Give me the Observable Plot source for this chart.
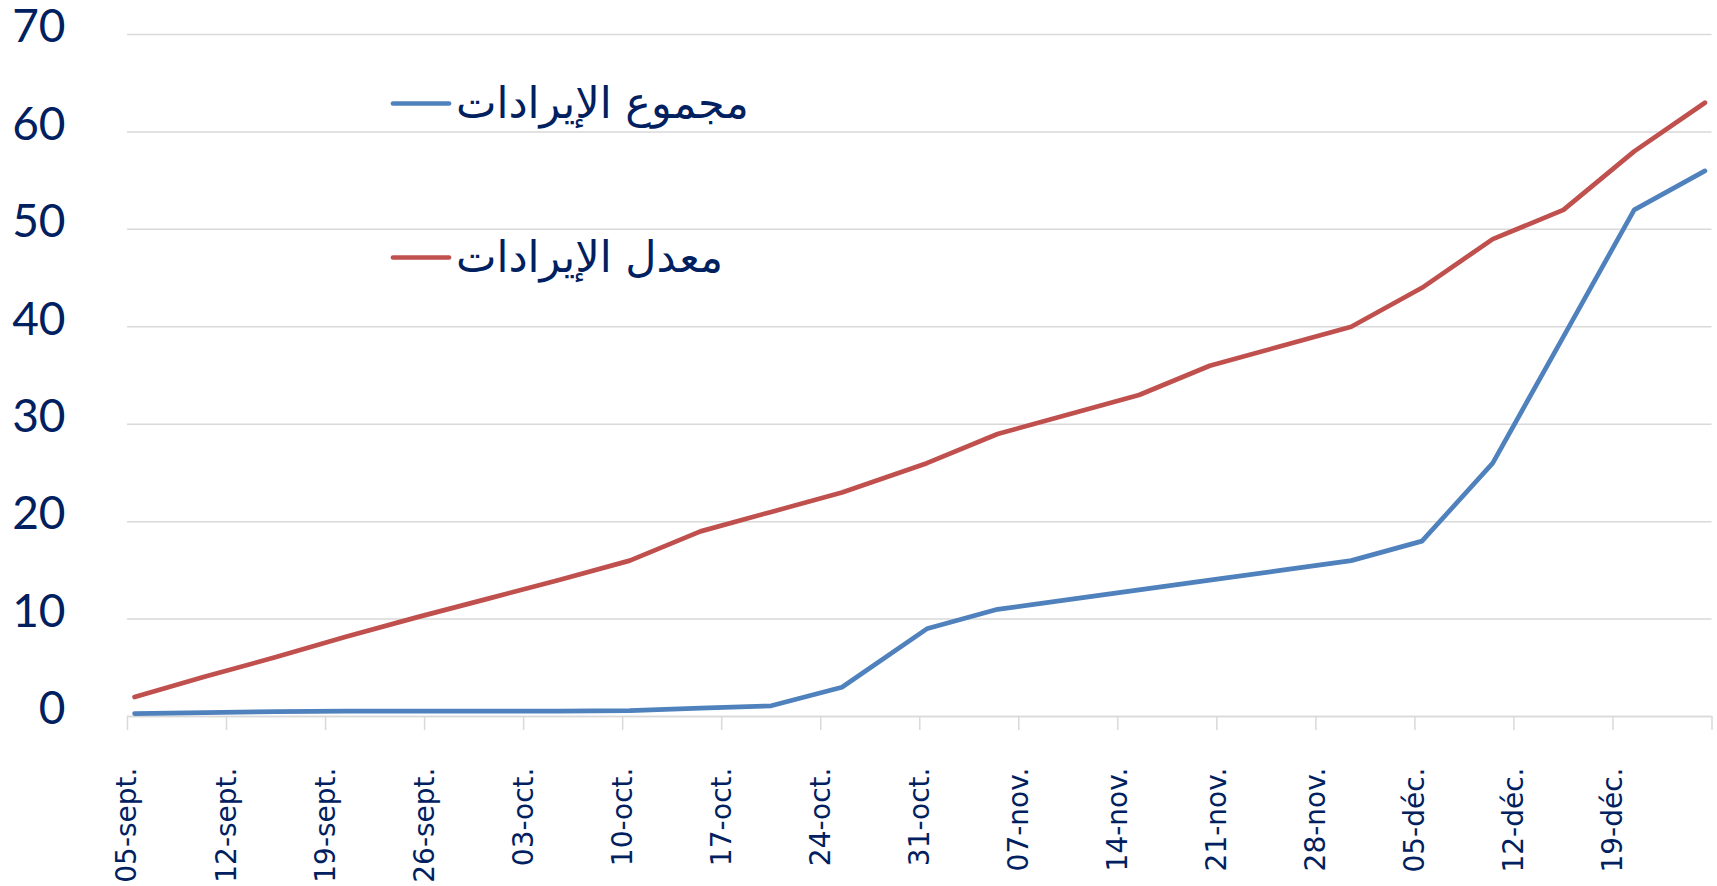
<!DOCTYPE html>
<html>
<head>
<meta charset="utf-8">
<script src="https://cdn.jsdelivr.net/npm/d3@7"></script>
<script src="https://cdn.jsdelivr.net/npm/@observablehq/plot@0.6"></script>
<style>
  html, body { margin: 0; padding: 0; background: #ffffff; }
  #chart { position: relative; width: 1717px; height: 886px; }
  .leg { position: absolute; left: 390px; display: flex; align-items: center;
         font-family: "DejaVu Sans", sans-serif; font-size: 43px; color: #002060;
         transform: translateY(-50%); white-space: nowrap; }
  .leg svg { display: block; }
  .leg span { direction: rtl; margin-left: 4px; line-height: 1; }
</style>
</head>
<body>
<div id="chart"></div>
<script>
// ---- data ----
const dates = [
  "2021-09-05", "2021-09-10", "2021-09-15", "2021-09-20", "2021-09-25", "2021-09-30",
  "2021-10-05", "2021-10-10", "2021-10-15", "2021-10-20", "2021-10-25", "2021-10-31",
  "2021-11-05", "2021-11-10", "2021-11-15", "2021-11-20", "2021-11-25", "2021-11-30",
  "2021-12-05", "2021-12-10", "2021-12-15", "2021-12-20", "2021-12-25"
];
const totalRevenue = [0.3, 0.4, 0.5, 0.55, 0.55, 0.55, 0.55, 0.6, 0.85, 1.1, 3, 9,
                      11, 12, 13, 14, 15, 16, 18, 26, 39, 52, 56];
const averageRevenue = [2, 4.1, 6.1, 8.2, 10.2, 12.1, 14, 16, 19, 21, 23, 26,
                        29, 31, 33, 36, 38, 40, 44, 49, 52, 58, 63];
const seriesNames = ["مجموع الإيرادات", "معدل الإيرادات"];
const seriesColors = ["#4F81BD", "#C0504D"];
const tickDates = [
  "2021-09-05", "2021-09-12", "2021-09-19", "2021-09-26", "2021-10-03", "2021-10-10",
  "2021-10-17", "2021-10-24", "2021-10-31", "2021-11-07", "2021-11-14", "2021-11-21",
  "2021-11-28", "2021-12-05", "2021-12-12", "2021-12-19", "2021-12-26"
];
const tickLabels = [
  "05-sept.", "12-sept.", "19-sept.", "26-sept.", "03-oct.", "10-oct.",
  "17-oct.", "24-oct.", "31-oct.", "07-nov.", "14-nov.", "21-nov.",
  "28-nov.", "05-déc.", "12-déc.", "19-déc.", ""
];
const yTicks = [0, 10, 20, 30, 40, 50, 60, 70];

// ---- build table ----
const rows = [];
dates.forEach((d, i) => {
  rows.push({date: new Date(d + "T12:00:00Z"), value: totalRevenue[i], series: seriesNames[0]});
});
dates.forEach((d, i) => {
  rows.push({date: new Date(d + "T12:00:00Z"), value: averageRevenue[i], series: seriesNames[1]});
});
const tickDateObjs = tickDates.map(d => new Date(d + "T00:00:00Z"));
const labelByTime = new Map(tickDateObjs.map((d, i) => [+d, tickLabels[i]]));

const textColor = "#002060";
const gridColor = "#d9d9d9";

const chart = Plot.plot({
  width: 1717,
  height: 886,
  marginLeft: 127,
  marginRight: 5.5,
  marginTop: 34,
  marginBottom: 170,
  style: {background: "#ffffff", color: textColor, overflow: "visible"},
  x: {type: "utc", domain: [tickDateObjs[0], tickDateObjs[tickDateObjs.length - 1]]},
  y: {domain: [0, 70]},
  color: {domain: seriesNames, range: seriesColors},
  marks: [
    Plot.gridY(yTicks, {stroke: gridColor, strokeOpacity: 1, strokeWidth: 1.5}),
    Plot.axisY(yTicks, {
      tickSize: 0, tickPadding: 62, fontSize: 46, fontFamily: "Lato",
      fill: textColor, dy: -7, label: null, tickFormat: d => String(d)
    }),
    Plot.axisX(tickDateObjs, {
      tickSize: 14, tickPadding: 37, stroke: gridColor, strokeWidth: 1.5, strokeOpacity: 1,
      tickRotate: -90, fontSize: 28, fontFamily: "DejaVu Sans", fill: textColor,
      tickFormat: d => labelByTime.get(+d), label: null
    }),
    Plot.ruleY([0], {stroke: gridColor, strokeWidth: 1.5}),
    Plot.line(rows, {
      x: "date", y: "value", z: "series", stroke: "series",
      strokeWidth: 4.7, strokeLinejoin: "round", strokeLinecap: "round"
    })
  ]
});

const container = document.getElementById("chart");
container.appendChild(chart);

// ---- legend (overlay) ----
const legendTops = [103, 257];
seriesNames.forEach((name, i) => {
  const row = document.createElement("div");
  row.className = "leg";
  row.style.top = legendTops[i] + "px";
  row.innerHTML =
    `<svg width="62" height="10"><line x1="3" y1="5" x2="59" y2="5" stroke="${seriesColors[i]}" stroke-width="4.7" stroke-linecap="round"/></svg>` +
    `<span>${name}</span>`;
  container.appendChild(row);
});
</script>
</body>
</html>
